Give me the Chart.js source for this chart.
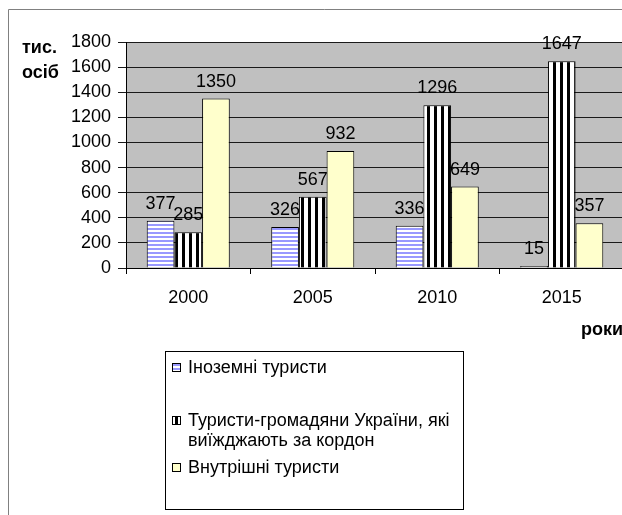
<!DOCTYPE html>
<html>
<head>
<meta charset="utf-8">
<script src="https://cdn.jsdelivr.net/npm/chart.js@4/dist/chart.umd.min.js"></script>
<style>
  html, body { margin: 0; padding: 0; background: #fff; overflow: hidden; }
  #wrap { width: 622px; height: 515px; overflow: hidden; position: relative; }
  canvas { position: absolute; left: 0; top: 0; }
</style>
</head>
<body>
<div id="wrap"><canvas id="chart" width="640" height="515"></canvas></div>
<script>
const years = ["2000", "2005", "2010", "2015"];
const foreignTourists = [377, 326, 336, 15];
const outboundTourists = [285, 567, 1296, 1647];
const domesticTourists = [1350, 932, 649, 357];
const seriesNames = [
  "Іноземні туристи",
  ["Туристи-громадяни України, які", "виїжджають за кордон"],
  "Внутрішні туристи",
];
const yTicks = { min: 0, max: 1800, step: 200 };

const FONT = "'Liberation Sans', Arial, sans-serif";

// stripe fills like the old Excel patterns
function makePattern(w, h, draw) {
  const c = document.createElement("canvas");
  c.width = w;
  c.height = h;
  draw(c.getContext("2d"));
  return c.getContext("2d").createPattern(c, "repeat");
}
const ctx = document.getElementById("chart").getContext("2d");
const bluePattern = makePattern(4, 4, (g) => {
  g.fillStyle = "#fff";
  g.fillRect(0, 0, 4, 4);
  g.fillStyle = "#9999ff";
  g.fillRect(0, 0, 4, 2);
});
const blackPattern = makePattern(7, 7, (g) => {
  g.fillStyle = "#fff";
  g.fillRect(0, 0, 7, 7);
  g.fillStyle = "#000";
  g.fillRect(0, 0, 3, 7);
});
const yellowFill = "#ffffcc";

const frameAndBackground = {
  id: "frameAndBackground",
  beforeDraw(chart) {
    const { ctx, chartArea } = chart;
    ctx.save();
    ctx.fillStyle = "#c0c0c0";
    ctx.fillRect(chartArea.left, chartArea.top, chartArea.right - chartArea.left, chartArea.bottom - chartArea.top);
    // outer chart frame
    ctx.strokeStyle = "#808080";
    ctx.lineWidth = 1;
    ctx.beginPath();
    ctx.moveTo(8.5, 515);
    ctx.lineTo(8.5, 9.5);
    ctx.lineTo(chart.width, 9.5);
    ctx.stroke();
    ctx.restore();
  },
};

const valueLabels = {
  id: "valueLabels",
  afterDatasetsDraw(chart) {
    const { ctx } = chart;
    ctx.save();
    ctx.font = "18px " + FONT;
    ctx.fillStyle = "#000";
    ctx.textAlign = "center";
    ctx.textBaseline = "alphabetic";
    chart.data.datasets.forEach((ds, i) => {
      chart.getDatasetMeta(i).data.forEach((bar, j) => {
        ctx.fillText(String(ds.data[j]), bar.x, bar.y - 12);
      });
    });
    ctx.restore();
  },
};

const titlesAndLegend = {
  id: "titlesAndLegend",
  afterDraw(chart) {
    const { ctx } = chart;
    ctx.save();
    ctx.fillStyle = "#000";
    ctx.font = "bold 18px " + FONT;
    ctx.textBaseline = "middle";
    ctx.textAlign = "left";
    ctx.fillText("тис.", 22, 48);
    ctx.fillText("осіб", 22, 73);
    ctx.fillText("роки", 581, 330);

    // legend box
    ctx.strokeStyle = "#000";
    ctx.lineWidth = 1;
    ctx.strokeRect(165.5, 351.5, 298, 158);
    const rows = [367, 420, 467];
    ctx.font = "18px " + FONT;
    chart.data.datasets.forEach((ds, i) => {
      const y = rows[i];
      ctx.fillStyle = ds.backgroundColor;
      ctx.fillRect(172, y - 4, 9, 9);
      ctx.strokeStyle = "#000";
      ctx.strokeRect(172.5, y - 3.5, 8, 8);
      ctx.fillStyle = "#000";
      const lines = Array.isArray(seriesNames[i]) ? seriesNames[i] : [seriesNames[i]];
      lines.forEach((t, k) => ctx.fillText(t, 188, y + 1 + k * 20));
    });
    ctx.restore();
  },
};

new Chart(ctx, {
  type: "bar",
  data: {
    labels: years,
    datasets: [
      { label: "Іноземні туристи", data: foreignTourists, backgroundColor: bluePattern },
      { label: "Туристи-громадяни України, які виїжджають за кордон", data: outboundTourists, backgroundColor: blackPattern },
      { label: "Внутрішні туристи", data: domesticTourists, backgroundColor: yellowFill },
    ].map((d) => ({
      ...d,
      borderColor: "#000",
      borderWidth: 1,
      borderSkipped: "bottom",
      categoryPercentage: 0.667,
      barPercentage: 1,
    })),
  },
  options: {
    responsive: false,
    animation: false,
    devicePixelRatio: 1,
    layout: { padding: { top: 42, right: 16, left: 0, bottom: 0 } },
    plugins: {
      legend: { display: false },
      tooltip: { enabled: false },
    },
    scales: {
      y: {
        min: yTicks.min,
        max: yTicks.max,
        ticks: {
          stepSize: yTicks.step,
          color: "#000",
          font: { family: FONT, size: 18 },
          padding: 7,
          callback: (v) => String(v),
        },
        grid: { color: "#1a1a1a", tickLength: 8 },
        border: { color: "#000" },
        afterFit: (scale) => { scale.width = 126; },
      },
      x: {
        offset: true,
        ticks: {
          color: "#000",
          font: { family: FONT, size: 18 },
          padding: 13,
        },
        grid: { drawOnChartArea: false, color: "#000", tickLength: 6, offset: true },
        border: { color: "#000" },
        afterFit: (scale) => { scale.height = 247; },
      },
    },
  },
  plugins: [frameAndBackground, valueLabels, titlesAndLegend],
});
</script>
</body>
</html>
